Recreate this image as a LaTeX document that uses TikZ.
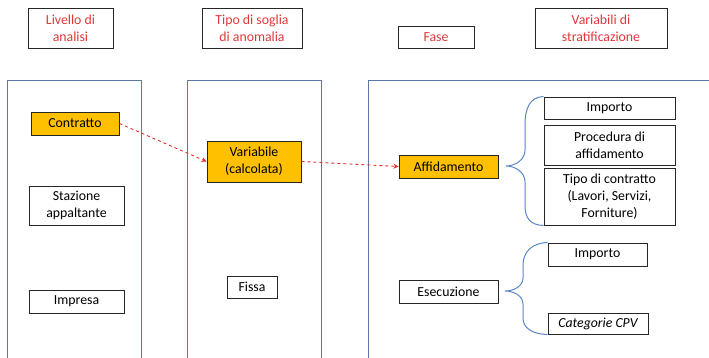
\documentclass[tikz,border=0pt]{standalone}
\usepackage{fontspec}
\setmainfont{Carlito}
\usetikzlibrary{arrows.meta}
\definecolor{hdrred}{HTML}{E0383A}
\definecolor{colblue}{HTML}{5A78A8}
\definecolor{braceblue}{HTML}{5B84C4}
\definecolor{orangefill}{HTML}{FFC000}
\definecolor{linkred}{HTML}{E0302A}
\begin{document}
\begin{tikzpicture}[x=1pt,y=-1pt,
 box/.style={draw=black!85, line width=1pt, fill=white, align=center, inner sep=0pt,
   font=\fontsize{13.8}{16.7}\selectfont},
 hdr/.style={box, text=hdrred},
 hl/.style={box, fill=orangefill},
 col/.style={draw=colblue, line width=1pt},
 brace/.style={draw=braceblue, line width=1pt},
 link/.style={draw=linkred, dashed, line width=0.9pt, -{Stealth[length=5pt,width=5pt]}}
]
\useasboundingbox (0,0) rectangle (709,357);
\clip (0,0) rectangle (709,357);
% columns
\draw[col] (7,360) -- (7,80) -- (141,80) -- (141,360);
\draw[col] (187,360) -- (187,80) -- (321,80) -- (321,360);
\draw[col] (368,360) -- (368,80) -- (712,80);
% headers
\node[hdr, minimum width=85pt, minimum height=40pt] (hLiv) at (70.5,28) {Livello di\\analisi};
\node[hdr, minimum width=100pt, minimum height=40pt] (hTipo) at (252,28) {Tipo di soglia\\di anomalia};
\node[hdr, minimum width=76pt, minimum height=22pt] (hFase) at (436,37) {Fase};
\node[hdr, minimum width=132pt, minimum height=40pt] (hVar) at (601,28) {Variabili di\\stratificazione};
% column 1
\node[hl, minimum width=88pt, minimum height=23pt] (contratto) at (75,123.5) {Contratto};
\node[box, minimum width=95pt, minimum height=39pt] (stazione) at (76.5,205.5) {Stazione\\appaltante};
\node[box, minimum width=95pt, minimum height=23pt] (impresa) at (76.5,301.5) {Impresa};
% column 2
\node[hl, minimum width=94pt, minimum height=41pt] (variabile) at (254,161.5) {Variabile\\(calcolata)};
\node[box, minimum width=50pt, minimum height=22pt] (fissa) at (252,287) {Fissa};
% column 3
\node[hl, minimum width=99pt, minimum height=23pt] (affid) at (448.5,166.5) {Affidamento};
\node[box, minimum width=99pt, minimum height=23pt] (esec) at (448.5,291.5) {Esecuzione};
\node[box, minimum width=131pt, minimum height=22pt] (imp1) at (609.5,108) {Importo};
\node[box, minimum width=131pt, minimum height=40pt] (proc) at (609.5,145) {Procedura di\\affidamento};
\node[box, minimum width=131pt, minimum height=57pt] (tipoc) at (609.5,196.5) {Tipo di contratto\\(Lavori, Servizi,\\Forniture)};
\node[box, minimum width=99pt, minimum height=23pt] (imp2) at (597.5,254.5) {Importo};
\node[box, minimum width=100pt, minimum height=21pt] (cpv) at (598,323.5) {\itshape Categorie CPV};
% braces
\draw[brace] (imp1.north west) .. controls (530,97) and (525,108) .. (525,125) -- (525,150)
  .. controls (525,160) and (515,166) .. (506,166)
  .. controls (515,166) and (525,172) .. (525,182) -- (525,205)
  .. controls (525,218) and (530,225) .. (tipoc.south west);
\draw[brace] (imp2.north west) .. controls (532,243) and (523,252) .. (523,265) -- (523,278)
  .. controls (523,286) and (514,291) .. (505,291)
  .. controls (514,291) and (523,296) .. (523,304) -- (523,318)
  .. controls (523,328) and (532,334) .. (cpv.south west);
% links
\draw[link] (contratto.east) -- (variabile.west);
\draw[link] (variabile.east) -- (affid.west);
\end{tikzpicture}
\end{document}
